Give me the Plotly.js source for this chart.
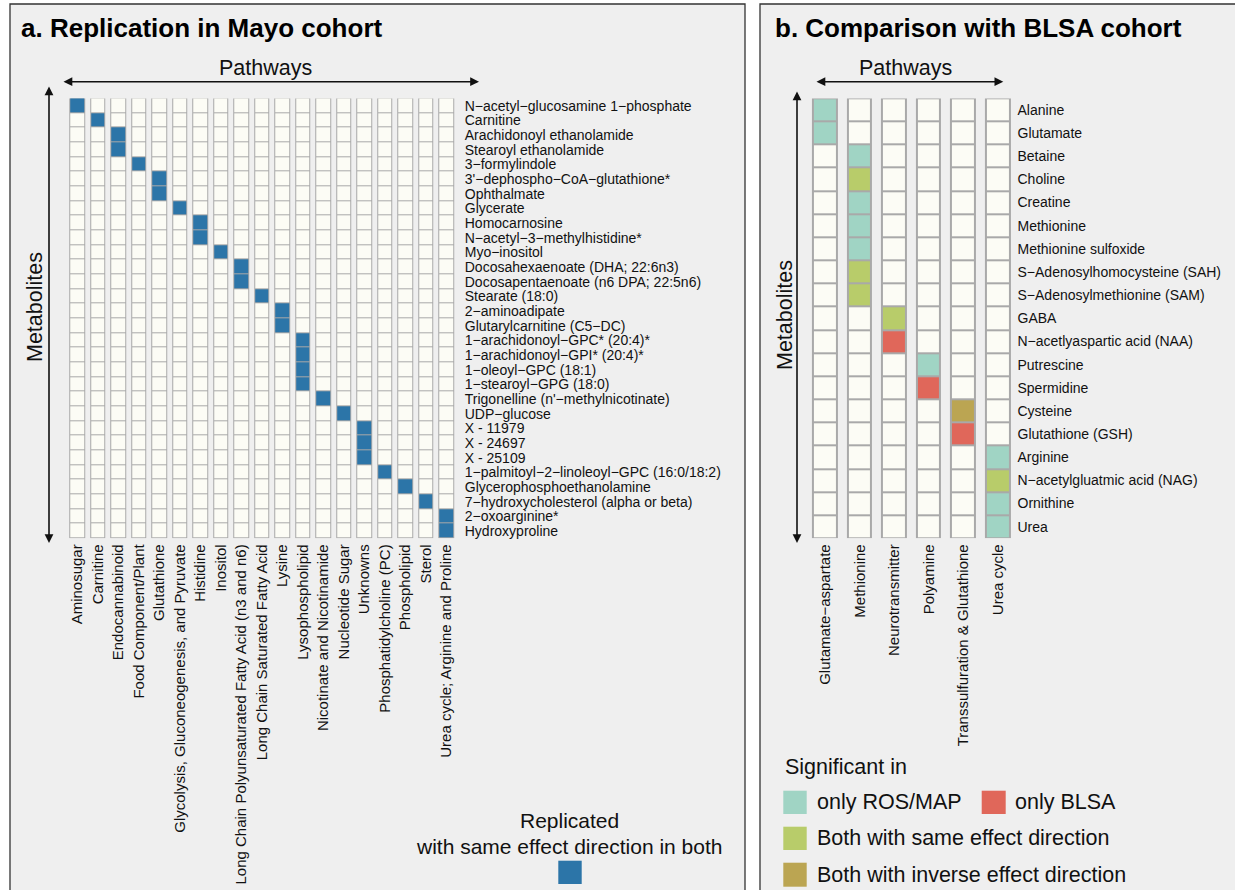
<!DOCTYPE html>
<html>
<head>
<meta charset="utf-8">
<script src="https://cdn.plot.ly/plotly-3.0.1.min.js"></script>
<style>
  html, body { margin: 0; padding: 0; background: #ffffff; }
  #chart { width: 1235px; height: 890px; }
</style>
</head>
<body>
<div id="chart"></div>
<script>
// ---------------- Panel a data ----------------
const pathwaysA = [
  "Aminosugar", "Carnitine", "Endocannabinoid", "Food Component/Plant", "Glutathione",
  "Glycolysis, Gluconeogenesis, and Pyruvate", "Histidine", "Inositol",
  "Long Chain Polyunsaturated Fatty Acid (n3 and n6)", "Long Chain Saturated Fatty Acid",
  "Lysine", "Lysophospholipid", "Nicotinate and Nicotinamide", "Nucleotide Sugar",
  "Unknowns", "Phosphatidylcholine (PC)", "Phospholipid", "Sterol",
  "Urea cycle; Arginine and Proline"
];
const metabolitesA = [
  "N\u2212acetyl\u2212glucosamine 1\u2212phosphate", "Carnitine", "Arachidonoyl ethanolamide",
  "Stearoyl ethanolamide", "3\u2212formylindole", "3'\u2212dephospho\u2212CoA\u2212glutathione*",
  "Ophthalmate", "Glycerate", "Homocarnosine", "N\u2212acetyl\u22123\u2212methylhistidine*",
  "Myo\u2212inositol", "Docosahexaenoate (DHA; 22:6n3)", "Docosapentaenoate (n6 DPA; 22:5n6)",
  "Stearate (18:0)", "2\u2212aminoadipate", "Glutarylcarnitine (C5\u2212DC)",
  "1\u2212arachidonoyl\u2212GPC* (20:4)*", "1\u2212arachidonoyl\u2212GPI* (20:4)*",
  "1\u2212oleoyl\u2212GPC (18:1)", "1\u2212stearoyl\u2212GPG (18:0)",
  "Trigonelline (n'\u2212methylnicotinate)", "UDP\u2212glucose", "X - 11979", "X - 24697", "X - 25109",
  "1\u2212palmitoyl\u22122\u2212linoleoyl\u2212GPC (16:0/18:2)", "Glycerophosphoethanolamine",
  "7\u2212hydroxycholesterol (alpha or beta)", "2\u2212oxoarginine*", "Hydroxyproline"
];
// index of the pathway (column) in which each metabolite was replicated
const replicatedInA = [0,1,2,2,3,4,4,5,6,6,7,8,8,9,10,10,11,11,11,11,12,13,14,14,14,15,16,17,18,18];
const legendTitleA = ["Replicated", "with same effect direction in both"];

// ---------------- Panel b data ----------------
const pathwaysB = ["Glutamate\u2212aspartate", "Methionine", "Neurotransmitter", "Polyamine",
  "Transsulfuration & Glutathione", "Urea cycle"];
const metabolitesB = ["Alanine", "Glutamate", "Betaine", "Choline", "Creatine", "Methionine",
  "Methionine sulfoxide", "S\u2212Adenosylhomocysteine (SAH)", "S\u2212Adenosylmethionine (SAM)",
  "GABA", "N\u2212acetlyaspartic acid (NAA)", "Putrescine", "Spermidine", "Cysteine",
  "Glutathione (GSH)", "Arginine", "N\u2212acetylgluatmic acid (NAG)", "Ornithine", "Urea"];
const pathwayOfB = [0,0,1,1,1,1,1,1,1,2,2,3,3,4,4,5,5,5,5];
// 1 only ROS/MAP, 2 only BLSA, 3 both same direction, 4 both inverse direction
const statusB = [1,1,1,3,1,1,1,3,3,3,2,1,2,4,2,1,3,1,1];
const statusNames = ["", "only ROS/MAP", "only BLSA", "Both with same effect direction", "Both with inverse effect direction"];

// ---------------- styles ----------------
const emptyColor = "#fcfcf5";
const borderColor = "#a9a9a9";
const blueColor = "#2c75a8";
const statusColors = [emptyColor, "#a0d4c4", "#e0675a", "#b8cc6a", "#bba552"];
const FONT = "Liberation Sans, Arial, Helvetica, sans-serif";
const W = 1235, H = 890;
const px = v => v / W;
const py = v => 1 - v / H;

// build matrices
const zA = metabolitesA.map((m, r) => pathwaysA.map((p, c) => (replicatedInA[r] === c ? 1 : 0)));
const onesA = metabolitesA.map(() => pathwaysA.map(() => 1));
const zB = metabolitesB.map((m, r) => pathwaysB.map((p, c) => (pathwayOfB[r] === c ? statusB[r] : 0)));
const onesB = metabolitesB.map(() => pathwaysB.map(() => 1));

function stepScale(colors) {
  const n = colors.length, out = [];
  colors.forEach((c, i) => {
    const lo = i === 0 ? 0 : (i - 0.5) / (n - 1);
    const hi = i === n - 1 ? 1 : (i + 0.5) / (n - 1);
    out.push([lo, c]); out.push([hi, c]);
  });
  return out;
}

const traces = [
  { type: "heatmap", x: pathwaysA, y: metabolitesA, z: onesA, xaxis: "x", yaxis: "y",
    colorscale: [[0, borderColor], [1, borderColor]], showscale: false, xgap: 5, ygap: 0, hoverinfo: "skip" },
  { type: "heatmap", x: pathwaysA, y: metabolitesA, z: zA, xaxis: "x", yaxis: "y",
    colorscale: [[0, emptyColor], [1, blueColor]], zmin: 0, zmax: 1, showscale: false, xgap: 7, ygap: 1 },
  { type: "heatmap", x: pathwaysB, y: metabolitesB, z: onesB, xaxis: "x2", yaxis: "y2",
    colorscale: [[0, borderColor], [1, borderColor]], showscale: false, xgap: 9, ygap: 0, hoverinfo: "skip" },
  { type: "heatmap", x: pathwaysB, y: metabolitesB, z: zB, xaxis: "x2", yaxis: "y2",
    colorscale: stepScale(statusColors), zmin: 0, zmax: 4, showscale: false, xgap: 13, ygap: 2 }
];

const tickFontX = { family: FONT, size: 15, color: "#111111" };
const tickFontY = { family: FONT, size: 14, color: "#111111" };
const axisCommon = { showgrid: false, zeroline: false, showline: false, ticks: "", fixedrange: true, type: "category", tickmode: "array" };

const yDom = [py(538.3), py(98.3)];

const layout = {
  width: W, height: H,
  margin: { l: 0, r: 0, t: 0, b: 0 },
  paper_bgcolor: "#ffffff", plot_bgcolor: "rgba(0,0,0,0)",
  showlegend: false,
  font: { family: FONT, color: "#111111" },
  xaxis: Object.assign({}, axisCommon, { domain: [px(67.25), px(456.75)], anchor: "y", range: [-0.5, pathwaysA.length - 0.5],
    tickvals: pathwaysA, ticktext: pathwaysA, tickangle: -90, tickfont: tickFontX, ticklabelstandoff: 2 }),
  yaxis: Object.assign({}, axisCommon, { domain: yDom, anchor: "x", side: "right", range: [metabolitesA.length - 0.5, -0.5],
    tickvals: metabolitesA, ticktext: metabolitesA, tickfont: tickFontY, ticklabelstandoff: 7 }),
  xaxis2: Object.assign({}, axisCommon, { domain: [px(807.9), px(1015.5)], anchor: "y2", range: [-0.5, pathwaysB.length - 0.5],
    tickvals: pathwaysB, ticktext: pathwaysB, tickangle: -90, tickfont: tickFontX, ticklabelstandoff: 2 }),
  yaxis2: Object.assign({}, axisCommon, { domain: yDom, anchor: "x2", side: "right", range: [metabolitesB.length - 0.5, -0.5],
    tickvals: metabolitesB, ticktext: metabolitesB, tickfont: tickFontY, ticklabelstandoff: 1 }),
  shapes: [
    { type: "rect", xref: "paper", yref: "paper", x0: px(10), x1: px(745), y0: py(4), y1: py(900),
      fillcolor: "#efefef", line: { color: "#333333", width: 1.3 }, layer: "below" },
    { type: "rect", xref: "paper", yref: "paper", x0: px(760), x1: px(1245), y0: py(4), y1: py(900),
      fillcolor: "#efefef", line: { color: "#333333", width: 1.3 }, layer: "below" },
    // legend swatches
    { type: "rect", xref: "paper", yref: "paper", x0: px(558.3), x1: px(581.7), y0: py(884), y1: py(860.7),
      fillcolor: blueColor, line: { width: 0 } },
    { type: "rect", xref: "paper", yref: "paper", x0: px(783.3), x1: px(806.7), y0: py(814), y1: py(790.7),
      fillcolor: statusColors[1], line: { width: 0 } },
    { type: "rect", xref: "paper", yref: "paper", x0: px(981.7), x1: px(1005.7), y0: py(814), y1: py(790.7),
      fillcolor: statusColors[2], line: { width: 0 } },
    { type: "rect", xref: "paper", yref: "paper", x0: px(783.3), x1: px(806.7), y0: py(850), y1: py(826.7),
      fillcolor: statusColors[3], line: { width: 0 } },
    { type: "rect", xref: "paper", yref: "paper", x0: px(783.3), x1: px(806.7), y0: py(886.7), y1: py(862.7),
      fillcolor: statusColors[4], line: { width: 0 } }
  ],
  annotations: []
};

const A = layout.annotations;
function txt(t, x, y, size, opts) {
  A.push(Object.assign({ text: t, xref: "paper", yref: "paper", x: px(x), y: py(y), showarrow: false,
    xanchor: "left", yanchor: "middle", font: { family: FONT, size: size, color: "#111111" } }, opts || {}));
}
function arrow(x1, y1, x0, y0) {
  A.push({ text: "", xref: "paper", yref: "paper", x: px(x1), y: py(y1), ax: x0 - x1, ay: y0 - y1,
    axref: "pixel", ayref: "pixel", showarrow: true, arrowside: "end+start", arrowhead: 2,
    arrowsize: 1.1, arrowwidth: 1.6, arrowcolor: "#111111", standoff: 0, startstandoff: 0 });
}

// titles
txt("<b>a. Replication in Mayo cohort</b>", 19, 27.5, 26, { font: { family: FONT, size: 26, color: "#000000" } });
txt("<b>b. Comparison with BLSA cohort</b>", 772.5, 27.5, 26, { font: { family: FONT, size: 26, color: "#000000" } });
// axis names + arrows
txt("Pathways", 265.8, 68.3, 21.5, { xanchor: "center" });
arrow(479, 81.7, 62, 81.7);
txt("Metabolites", 34.3, 306.7, 21.5, { xanchor: "center", textangle: -90 });
arrow(49, 543, 49, 85);
txt("Pathways", 905, 68.3, 21.5, { xanchor: "center" });
arrow(1003.3, 81.7, 815, 81.7);
txt("Metabolites", 785, 315, 21.5, { xanchor: "center", textangle: -90 });
arrow(797, 543, 797, 90);
// legends
txt(legendTitleA[0], 569, 820, 21, { xanchor: "center" });
txt(legendTitleA[1], 569, 846.7, 21, { xanchor: "center" });
txt("Significant in", 783.3, 766.7, 21.5);
txt(statusNames[1], 815, 802.3, 21.5);
txt(statusNames[2], 1013.3, 802.3, 21.5);
txt(statusNames[3], 815, 838.3, 21.5);
txt(statusNames[4], 815, 874.7, 21.5);

Plotly.newPlot("chart", traces, layout, { displayModeBar: false, staticPlot: true });
</script>
</body>
</html>
